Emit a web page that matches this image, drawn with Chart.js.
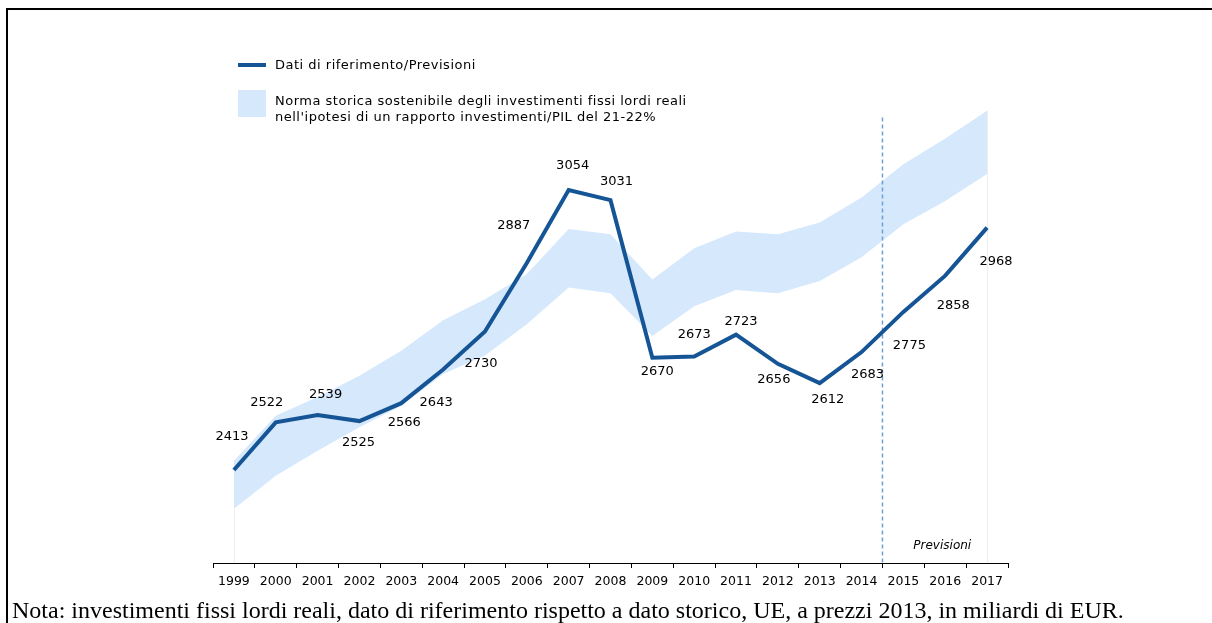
<!DOCTYPE html>
<html>
<head>
<meta charset="utf-8">
<script src="https://cdn.jsdelivr.net/npm/chart.js@4/dist/chart.umd.min.js"></script>
<style>
  html, body { margin: 0; padding: 0; background: #fff; }
  #wrap { position: relative; width: 1212px; height: 623px; overflow: hidden; background: #fff; }
  #frame { position: absolute; left: 6px; top: 8px; width: 1220px; height: 700px;
           border-top: 2px solid #000; border-left: 2px solid #000; }
  canvas { position: absolute; left: 0; top: 0; }
  .lg { position: absolute; font-family: "DejaVu Sans", Verdana, sans-serif; font-size: 13px;
        letter-spacing: 0.5px; line-height: 16px; color: #000; white-space: nowrap; }
  .sw-line { position: absolute; left: 238px; top: 63px; width: 28px; height: 4px; background: #155495; }
  .sw-box { position: absolute; left: 238px; top: 90px; width: 28px; height: 27px; background: #d5e8fc; }
  #note { position: absolute; left: 12px; top: 598px; font-family: "Liberation Serif", "Times New Roman", serif;
          font-size: 24px; line-height: 24px; color: #000; white-space: nowrap; }
</style>
</head>
<body>
<div id="wrap">
  <div id="frame"></div>
  <canvas id="c" width="1212" height="623"></canvas>
  <div class="sw-line"></div>
  <div class="lg" style="left:275px; top:57px;">Dati di riferimento/Previsioni</div>
  <div class="sw-box"></div>
  <div class="lg" style="left:275px; top:93px;">Norma storica sostenibile degli investimenti fissi lordi reali<br>nell'ipotesi di un rapporto investimenti/PIL del 21-22%</div>
  <div id="note">Nota: investimenti fissi lordi reali, dato di riferimento rispetto a dato storico, UE, a prezzi 2013, in miliardi di EUR.</div>
</div>
<script>
// ---- Data ----
const years = ['1999','2000','2001','2002','2003','2004','2005','2006','2007','2008','2009','2010','2011','2012','2013','2014','2015','2016','2017'];
const investimenti = [2413, 2522, 2539, 2525, 2566, 2643, 2730, 2887, 3054, 3031, 2670, 2673, 2723, 2656, 2612, 2683, 2775, 2858, 2968];
const normaMin = [2324, 2400, 2457, 2511, 2560, 2633, 2675, 2747, 2831, 2818, 2720, 2788, 2825, 2818, 2846, 2900, 2976, 3029, 3091];
const normaMax = [2434, 2537, 2580, 2629, 2686, 2756, 2804, 2862, 2965, 2953, 2849, 2921, 2959, 2953, 2980, 3037, 3113, 3172, 3236];
const forecastStart = '2015';
const forecastLabel = 'Previsioni';

// ---- Styling (pixel offsets of value labels relative to points) ----
const labelOffsets = [[-2,-33],[-9,-20],[8,-20],[-1,22],[3,19],[-7,33],[-4,32],[-13,-37],[4,-24],[6,-19],
                      [5,14],[0,-22],[5,-13],[-4,16],[8,17],[6,23],[6,34],[8,30],[9,34]];
const LINE_COLOR = '#155495';
const BAND_COLOR = '#d5e8fc';
const FONT = '"DejaVu Sans", Verdana, sans-serif';

const overlay = {
  id: 'overlay',
  beforeDatasetDraw(chart, args) {
    if (args.index !== 0) return;
    const ctx = chart.ctx, x = chart.scales.x, y = chart.scales.y, ca = chart.chartArea;
    ctx.save();
    ctx.strokeStyle = '#eeeeee';
    ctx.lineWidth = 1;
    ctx.beginPath();
    const x0 = Math.round(x.getPixelForValue(0)) + 0.5;
    ctx.moveTo(x0, y.getPixelForValue(normaMin[0]));
    ctx.lineTo(x0, ca.bottom);
    const xn = Math.round(x.getPixelForValue(years.length - 1)) + 0.5;
    ctx.moveTo(xn, y.getPixelForValue(normaMax[years.length - 1]));
    ctx.lineTo(xn, ca.bottom);
    ctx.stroke();
    const fi = years.indexOf(forecastStart);
    const fx = (x.getPixelForValue(fi - 1) + x.getPixelForValue(fi)) / 2;
    ctx.strokeStyle = '#6f9fd3';
    ctx.lineWidth = 1.5;
    ctx.setLineDash([4, 3]);
    ctx.beginPath();
    ctx.moveTo(fx, y.getPixelForValue(3220));
    ctx.lineTo(fx, ca.bottom);
    ctx.stroke();
    ctx.setLineDash([]);
    ctx.fillStyle = '#000';
    ctx.font = 'italic 12px ' + FONT;
    ctx.textAlign = 'center';
    ctx.textBaseline = 'middle';
    ctx.fillText(forecastLabel, (fx + ca.right) / 2 - 3, ca.bottom - 17);
    ctx.restore();
  },
  afterDatasetsDraw(chart) {
    const ctx = chart.ctx;
    const meta = chart.getDatasetMeta(0);
    ctx.save();
    ctx.fillStyle = '#000';
    ctx.font = '13px ' + FONT;
    ctx.textAlign = 'center';
    ctx.textBaseline = 'middle';
    meta.data.forEach((pt, i) => {
      const o = labelOffsets[i];
      ctx.fillText(String(investimenti[i]), pt.x + o[0], pt.y + o[1]);
    });
    ctx.restore();
  }
};

new Chart(document.getElementById('c'), {
  type: 'line',
  data: {
    labels: years,
    datasets: [
      { label: 'Dati di riferimento/Previsioni', data: investimenti, order: 0,
        borderColor: LINE_COLOR, borderWidth: 4, pointRadius: 0, tension: 0, fill: false },
      { label: 'min', data: normaMin, order: 2, borderWidth: 0, borderColor: 'rgba(0,0,0,0)',
        pointRadius: 0, tension: 0, fill: false },
      { label: 'Norma storica', data: normaMax, order: 1, borderWidth: 0, borderColor: 'rgba(0,0,0,0)',
        backgroundColor: BAND_COLOR, pointRadius: 0, tension: 0, fill: 1 }
    ]
  },
  options: {
    responsive: false,
    animation: false,
    devicePixelRatio: 1,
    layout: { padding: { left: 213, right: 204, top: 39, bottom: 0 } },
    plugins: { legend: { display: false }, tooltip: { enabled: false } },
    scales: {
      x: {
        offset: true,
        grid: { display: true, drawOnChartArea: false, drawTicks: true, tickLength: 5, color: '#000', offset: true },
        border: { display: true, color: '#000', width: 1 },
        ticks: { color: '#000', font: { family: FONT, size: 12.5 }, padding: 6, maxRotation: 0, autoSkip: false },
        afterFit(s) { s.height = 60; }
      },
      y: { display: false, min: 2200, max: 3400 }
    }
  },
  plugins: [overlay]
});
</script>
</body>
</html>
